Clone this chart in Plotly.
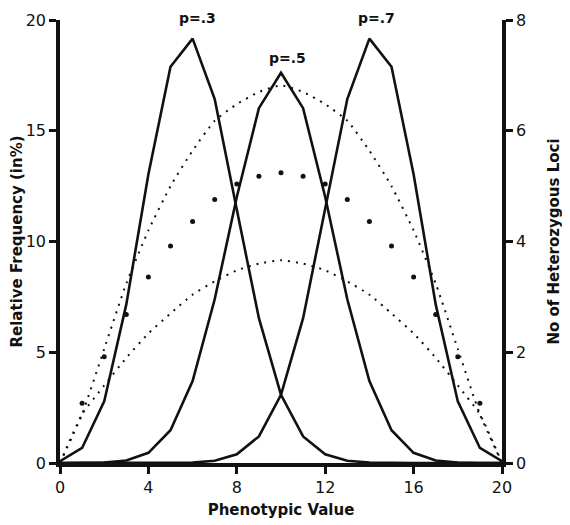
import plotly.graph_objects as go

# Phenotypic values (number of "+" alleles over 20 loci)
phenotype = list(range(21))

# Relative frequency (%)
freq_p3 = [0.08, 0.68, 2.78, 7.16, 13.04, 17.89, 19.16, 16.43, 11.44, 6.54, 3.08,
           1.20, 0.39, 0.10, 0.02, 0.0, 0.0, 0.0, 0.0, 0.0, 0.0]
freq_p5 = [0.0, 0.0, 0.02, 0.11, 0.46, 1.48, 3.70, 7.39, 12.01, 16.02, 17.62,
           16.02, 12.01, 7.39, 3.70, 1.48, 0.46, 0.11, 0.02, 0.0, 0.0]
freq_p7 = [0.0, 0.0, 0.0, 0.0, 0.0, 0.0, 0.02, 0.10, 0.39, 1.20, 3.08,
           6.54, 11.44, 16.43, 19.16, 17.89, 13.04, 7.16, 2.78, 0.68, 0.08]

# Heterozygous loci (right axis, 0-8)
het_upper = [0.0, 0.88, 2.06, 3.24, 4.20, 5.00, 5.64, 6.18, 6.48, 6.70, 6.82,
             6.70, 6.48, 6.18, 5.64, 5.00, 4.20, 3.24, 2.06, 0.88, 0.0]
het_dots = [0.0, 1.08, 1.92, 2.68, 3.36, 3.92, 4.36, 4.76, 5.04, 5.18, 5.24,
            5.18, 5.04, 4.76, 4.36, 3.92, 3.36, 2.68, 1.92, 1.08, 0.0]
het_lower = [0.0, 0.88, 1.40, 1.90, 2.34, 2.70, 3.04, 3.28, 3.48, 3.60, 3.66,
             3.60, 3.48, 3.28, 3.04, 2.70, 2.34, 1.90, 1.40, 0.88, 0.0]

curve_labels = ["p=.3", "p=.5", "p=.7"]
label_x = [6.2, 10.3, 14.3]
label_y = [20.1, 18.3, 20.1]

x_ticks = [0, 4, 8, 12, 16, 20]
y_ticks = [0, 5, 10, 15, 20]
y2_ticks = [0, 2, 4, 6, 8]

FONT = "DejaVu Sans"
INK = "#111111"

fig = go.Figure()
for ys in (freq_p3, freq_p5, freq_p7):
    fig.add_trace(go.Scatter(x=phenotype, y=ys, mode="lines",
                             line=dict(color=INK, width=2.6),
                             showlegend=False, hoverinfo="skip"))

for ys in (het_upper, het_lower):
    fig.add_trace(go.Scatter(x=phenotype, y=ys, mode="lines", yaxis="y2",
                             line=dict(color=INK, width=2.0, dash="2px,6px",
                                       shape="spline", smoothing=0.5),
                             showlegend=False, hoverinfo="skip"))

fig.add_trace(go.Scatter(x=phenotype, y=het_dots, mode="markers", yaxis="y2",
                         marker=dict(color=INK, size=5),
                         showlegend=False, hoverinfo="skip"))

# curve labels: positioned from the data values, converted to paper space so
# labels above the top of the axis range are still drawn
for t, xx, yy in zip(curve_labels, label_x, label_y):
    fig.add_annotation(x=xx, y=yy / 20.0, xref="x", yref="paper", text=t,
                       showarrow=False,
                       font=dict(family=FONT, size=14, color=INK, weight="bold"),
                       yanchor="middle")

axis_common = dict(showgrid=False, zeroline=False, showline=True,
                   linecolor=INK, linewidth=3.5, ticks="outside",
                   tickwidth=3, ticklen=7, tickcolor=INK, automargin=False,
                   tickfont=dict(family=FONT, size=16, color=INK))

title_font = dict(family=FONT, size=15, color=INK, weight="bold")

# the page body has an 8px margin, so the figure is sized to fit the window
fig.update_layout(
    width=562, height=517,
    margin=dict(l=52, r=68, t=12, b=62),
    paper_bgcolor="white", plot_bgcolor="white",
    xaxis=dict(range=[0, 20], tickvals=x_ticks,
               title=dict(text="Phenotypic Value", standoff=10, font=title_font),
               **axis_common),
    yaxis=dict(range=[0, 20], tickvals=y_ticks,
               title=dict(text="Relative Frequency (in%)", standoff=12,
                          font=title_font),
               **axis_common),
    yaxis2=dict(range=[0, 8], tickvals=y2_ticks, overlaying="y", side="right",
                title=dict(text="No of Heterozygous Loci", standoff=24,
                           font=title_font),
                **axis_common),
)

fig.write_html("out.html")
